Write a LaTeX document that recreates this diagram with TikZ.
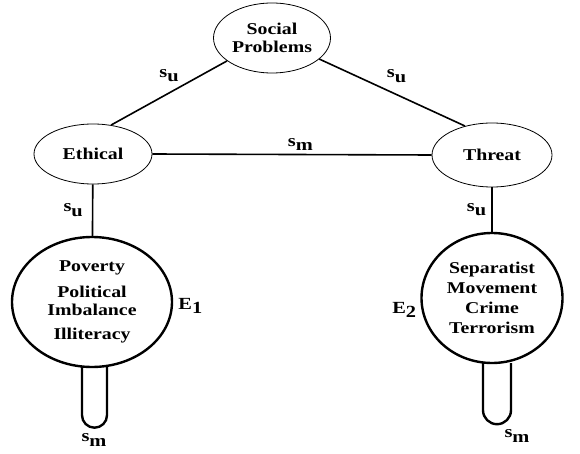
\documentclass[tikz,border=0pt]{standalone}
\usepackage{fontspec}
\setmainfont{Liberation Serif}
\newfontfamily\wideserif[FakeStretch=1.2]{Liberation Serif}
\usetikzlibrary{shapes.geometric,positioning,calc}
\newcommand{\lab}[2]{#1\raisebox{-0.6ex}{#2}}
\tikzset{%
  every problem/.style={
    ellipse,
    draw,
    line width=0.8pt,
    inner sep=0pt,
    align=center,
    font=\wideserif\fontsize{16.5}{18}\selectfont\bfseries
  },
  cluster/.style={
    ellipse,
    draw,
    line width=2.4pt,
    inner sep=0pt,
    align=center,
    font=\wideserif\fontsize{16.5}{18}\selectfont\bfseries
  },
  link/.style={line width=1.6pt},
  loopstem/.style={line width=2.4pt},
  rel/.style={font=\wideserif\fontsize{17}{18}\selectfont\bfseries, inner sep=1pt}
}
\begin{document}
\begin{tikzpicture}[x=1pt,y=-1pt]
  \useasboundingbox (0,0) rectangle (580,454);
  \node[every problem, minimum width=117pt, minimum height=70pt] (soc) at (272,38) {Social\\Problems};
  \node[every problem, minimum width=118pt, minimum height=60pt] (eth) at (93,154) {Ethical};
  \node[every problem, minimum width=120pt, minimum height=64pt] (thr) at (492,155) {Threat};
  \node[cluster, minimum width=160pt, minimum height=130pt] (e1) at (92,302)
    {Poverty\\[8pt]Political\\Imbalance\\[6pt]Illiteracy};
  \node[cluster, minimum width=141pt, minimum height=130pt] (e2) at (492,298)
    {Separatist\\[2pt]Movement\\[2pt]Crime\\[2pt]Terrorism};
  \path[link]
    (eth.58) edge node[rel, above=9pt, pos=0.5] {\lab{s}{u}} (soc.207)
    (soc.336) edge node[rel, above=10pt, pos=0.53] {\lab{s}{u}} (thr.133)
    (eth.east) edge node[rel, above=2pt, pos=0.53] {\lab{s}{m}} (thr.west)
    (eth) edge node[rel, left=8pt] {\lab{s}{u}} (e1)
    (thr) edge node[rel, left=4pt] {\lab{s}{u}} (e2);
  \node[rel, right=4pt of e1.east, yshift=-4pt] (lab1) {\lab{E}{1}};
  \node[rel, left=3pt of e2.west, yshift=-12pt] (lab2) {\lab{E}{2}};
  % self loops
  \draw[loopstem] ($(e1.south)+(-10,-1)$) coordinate (s1a) -- ++(0,48)
    arc[start angle=180, end angle=0, radius=12.5] -- ++(0,-48);
  \draw[loopstem] ($(e2.south)+(-9,-1)$) coordinate (s2a) -- ++(0,47)
    arc[start angle=180, end angle=0, radius=14] -- ++(0,-47);
  \node[rel] (m1) at (94,440) {\lab{s}{m}};
  \node[rel] (m2) at (517,436) {\lab{s}{m}};
\end{tikzpicture}
\end{document}
